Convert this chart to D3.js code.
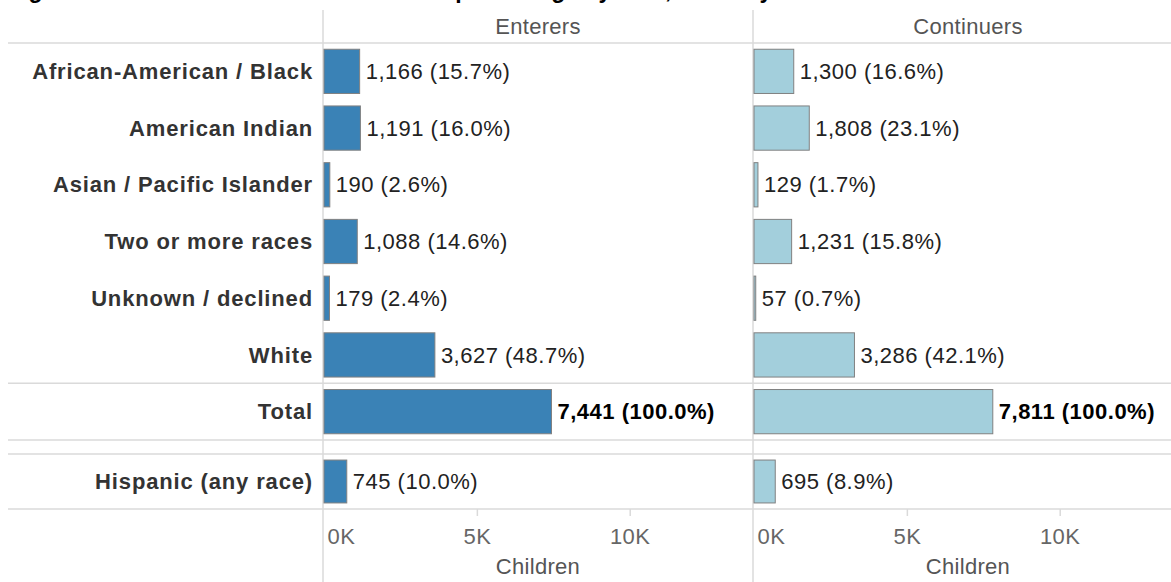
<!DOCTYPE html>
<html>
<head>
<meta charset="utf-8">
<script src="https://cdn.jsdelivr.net/npm/d3@7"></script>
<style>
  html, body { margin: 0; padding: 0; background: #fff; overflow: hidden; }
  svg { display: block; font-family: "Liberation Sans", Arial, sans-serif; }
</style>
</head>
<body>
<svg id="chart" width="1171" height="582"></svg>
<script>
// chart data
var categories = ['African-American / Black', 'American Indian', 'Asian / Pacific Islander',
  'Two or more races', 'Unknown / declined', 'White', 'Total', 'Hispanic (any race)'];
var enterers = [1166, 1191, 190, 1088, 179, 3627, 7441, 745];
var enterersPct = [15.7, 16.0, 2.6, 14.6, 2.4, 48.7, 100.0, 10.0];
var continuers = [1300, 1808, 129, 1231, 57, 3286, 7811, 695];
var continuersPct = [16.6, 23.1, 1.7, 15.8, 0.7, 42.1, 100.0, 8.9];
var panelNames = ['Enterers', 'Continuers'];
var xTicks = [0, 5000, 10000];
var axisTitle = 'Children';
var titleText = 'Figure 3. Number of children served and percentage by race, ethnicity';

var svg = d3.select('#chart');
var W = 1171, H = 582;
var lineColor = '#dadada';
var fonts = { size: 22 };

var panels = [
  { name: panelNames[0], values: enterers, pcts: enterersPct, fill: '#3a82b6', x0: 323 },
  { name: panelNames[1], values: continuers, pcts: continuersPct, fill: '#a3cfdc', x0: 753 }
];
var panelWidth = 430;

// rows: race rows + total share one band scale, hispanic sits in its own block
var mainRows = categories.slice(0, 7);
var yMain = d3.scaleBand().domain(mainRows).range([43, 440]).paddingInner(0.22).paddingOuter(0.11);
var yHisp = d3.scaleBand().domain(categories.slice(7)).range([454, 509]).paddingInner(0.22).paddingOuter(0.11);
function yPos(c) { return mainRows.indexOf(c) >= 0 ? yMain(c) : yHisp(c); }
function bw(c) { return mainRows.indexOf(c) >= 0 ? yMain.bandwidth() : yHisp.bandwidth(); }

var fmtNum = d3.format(',');
var fmtPct = d3.format('.1f');

// title, cut off by the top edge as in the source (only descenders show)
svg.append('text')
  .attr('x', 8).attr('y', -2)
  .attr('font-size', 23).attr('font-weight', 'bold').attr('fill', '#000')
  .text(titleText);

// horizontal rules
var ruleYs = [43, yMain('Total') - yMain.step() * 0.11, 440, 454, 509];
svg.selectAll('.rule').data(ruleYs).enter().append('line')
  .attr('class', 'rule')
  .attr('x1', 8).attr('x2', W)
  .attr('y1', function (d) { return d; }).attr('y2', function (d) { return d; })
  .attr('stroke', lineColor).attr('stroke-width', 1.5);

// vertical panel dividers
svg.selectAll('.divider').data(panels).enter().append('line')
  .attr('class', 'divider')
  .attr('x1', function (d) { return d.x0; }).attr('x2', function (d) { return d.x0; })
  .attr('y1', 10).attr('y2', H)
  .attr('stroke', lineColor).attr('stroke-width', 1.5);

// category labels
svg.selectAll('.cat').data(categories).enter().append('text')
  .attr('class', 'cat')
  .attr('x', 313)
  .attr('y', function (d) { return yPos(d) + bw(d) / 2; })
  .attr('dy', '0.35em')
  .attr('text-anchor', 'end')
  .attr('font-size', fonts.size).attr('font-weight', 'bold')
  .attr('letter-spacing', 0.85)
  .attr('fill', '#333')
  .text(function (d) { return d; });

panels.forEach(function (p) {
  var x = d3.scaleLinear().domain([0, 14000]).range([p.x0 + 1, p.x0 + 1 + panelWidth - 2]);
  var g = svg.append('g');

  g.append('text')
    .attr('x', p.x0 + panelWidth / 2).attr('y', 34)
    .attr('text-anchor', 'middle')
    .attr('font-size', fonts.size).attr('letter-spacing', 0.3)
    .attr('fill', '#555')
    .text(p.name);

  var rows = categories.map(function (c, i) {
    return { cat: c, v: p.values[i], pct: p.pcts[i], total: c === 'Total' };
  });

  g.selectAll('rect').data(rows).enter().append('rect')
    .attr('x', x(0))
    .attr('y', function (d) { return yPos(d.cat); })
    .attr('width', function (d) { return x(d.v) - x(0); })
    .attr('height', function (d) { return bw(d.cat); })
    .attr('fill', p.fill)
    .attr('stroke', '#808080').attr('stroke-width', 1);

  g.selectAll('.val').data(rows).enter().append('text')
    .attr('class', 'val')
    .attr('x', function (d) { return x(d.v) + 6; })
    .attr('y', function (d) { return yPos(d.cat) + bw(d.cat) / 2; })
    .attr('dy', '0.35em')
    .attr('font-size', fonts.size)
    .attr('letter-spacing', 0.5)
    .attr('font-weight', function (d) { return d.total ? 'bold' : 'normal'; })
    .attr('fill', function (d) { return d.total ? '#000' : '#222'; })
    .text(function (d) { return fmtNum(d.v) + ' (' + fmtPct(d.pct) + '%)'; });

  var axis = d3.axisBottom(x)
    .tickValues(xTicks)
    .tickSize(7)
    .tickPadding(12)
    .tickFormat(function (d) { return (d / 1000) + 'K'; });

  var ax = g.append('g').attr('transform', 'translate(0,509)').call(axis);
  ax.select('.domain').remove();
  ax.selectAll('.tick line').attr('stroke', lineColor).attr('stroke-width', 1.5)
    .filter(function (d) { return d === 0; }).remove();
  ax.selectAll('.tick text')
    .attr('font-size', fonts.size).attr('letter-spacing', 0.5)
    .attr('font-family', '"Liberation Sans", Arial, sans-serif')
    .attr('fill', '#666');
  // first label sits right of the zero line instead of centred on it
  ax.selectAll('.tick text').filter(function (d) { return d === 0; })
    .attr('text-anchor', 'start').attr('x', 3);

  g.append('text')
    .attr('x', p.x0 + panelWidth / 2).attr('y', 574)
    .attr('text-anchor', 'middle')
    .attr('font-size', fonts.size).attr('letter-spacing', 0.3)
    .attr('fill', '#555')
    .text(axisTitle);
});
</script>
</body>
</html>
